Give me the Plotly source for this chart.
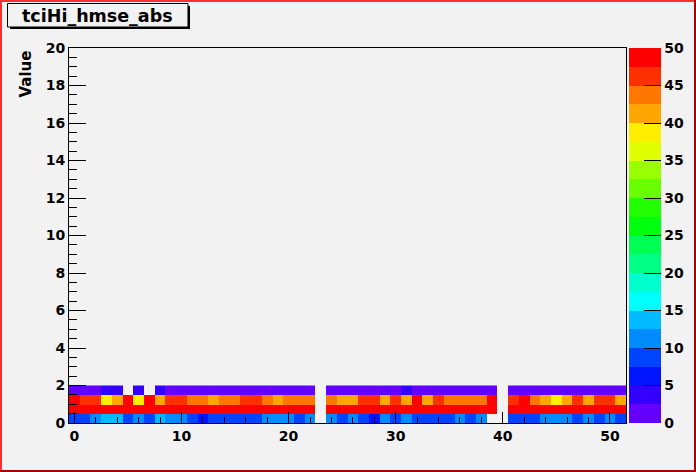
import colorsys
import plotly.graph_objects as go

# ---- data ----
x_bins = list(range(52))
y_bins = [0.25, 0.75, 1.25, 1.75]

row_0_05 = [9, 9, 11, 14, 14, 9, 11, 9, 14, 11, 11, 9, 6, 9, 9, 9, 9, 9, 11, 11,
            11, 9, 11, None, 11, 9, 11, 9, 6, 11, 9, 11, 9, 9, 9, 9, 11, 9, 11, None,
            None, 9, 9, 9, 11, 11, 11, 9, 11, 9, 11, 9]
row_05_1 = [49] * 23 + [None] + [49] * 16 + [None] + [49] * 11
row_1_15 = [49, 46, 46, 39, 41, 49, 39, 49, 41, 46, 46, 44, 44, 41, 44, 44, 46, 46, 44, 41,
            44, 44, 44, None, 44, 41, 41, 46, 46, 41, 46, 41, 49, 41, 46, 44, 44, 44, 44, 49,
            None, 46, 49, 44, 41, 39, 41, 46, 41, 46, 46, 41]
row_15_2 = [1.5, 1.5, 1.5, 3.5, 3.5, None, 3.5, None, 3.5, 1.5, 1.5, 1.5, 1.5, 1.5, 1.5, 1.5, 1.5, 1.5, 1.5, 1.5,
            1.5, 1.5, 1.5, None, 1.5, 1.5, 1.5, 1.5, 1.5, 1.5, 1.5, 3.5, 1.5, 1.5, 1.5, 1.5, 1.5, 1.5, 1.5, 1.5,
            None, 1.5, 1.5, 1.5, 1.5, 1.5, 1.5, 1.5, 1.5, 1.5, 1.5, 1.5]

z_min, z_max, n_levels = 0, 50, 20
cbar_ticks = [0, 5, 10, 15, 20, 25, 30, 35, 40, 45, 50]
x_ticks = [0, 10, 20, 30, 40, 50]
y_ticks = [0, 2, 4, 6, 8, 10, 12, 14, 16, 18, 20]
title_text = "tciHi_hmse_abs"
y_title = "Value"

# ---- ROOT-like "pretty" palette with 20 contour levels ----
def pal(i):
    hue = 280 - (i + 1) * (280 / 50)
    r, g, b = colorsys.hls_to_rgb(hue / 360.0, 0.5, 1.0)
    return f"rgb({int(r*255+0.5)},{int(g*255+0.5)},{int(b*255+0.5)})"

scale = []
for j in range(n_levels):
    c = pal(int((j + 0.99) * 50 / n_levels))
    scale.append([j / n_levels, c])
    scale.append([(j + 1) / n_levels, c])

W, H = 696, 472
L, R, T, B = 69, 70, 48, 49
PW, PH = W - L - R, H - T - B

def px(x):
    return (x - L) / PW

def py(y):
    return (H - B - y) / PH

font = dict(family="DejaVu Sans", size=14, color="black", weight="bold")

fig = go.Figure()
fig.add_trace(go.Heatmap(
    x=x_bins, y=y_bins,
    z=[row_0_05, row_05_1, row_1_15, row_15_2],
    zmin=z_min, zmax=z_max, colorscale=scale,
    hoverongaps=False,
    colorbar=dict(
        x=px(629), xanchor="left", xpad=0, ypad=0,
        y=0.5, yanchor="middle", len=1, lenmode="fraction",
        thickness=32, thicknessmode="pixels",
        outlinewidth=0,
        tickmode="array", tickvals=cbar_ticks,
        ticks="inside", ticklen=17, tickcolor="black", tickwidth=1,
        tickfont=font,
    ),
))

fig.update_xaxes(
    range=[-0.5, 51.5], tickmode="array", tickvals=x_ticks,
    ticks="inside", ticklen=11, tickcolor="black",
    minor=dict(dtick=2, tick0=0, ticks="inside", ticklen=6, tickcolor="black"),
    showgrid=False, zeroline=False, automargin=False,
    showline=True, linecolor="black", linewidth=1, mirror=True,
    tickfont=font,
)
fig.update_yaxes(
    range=[0, 20], tickmode="array", tickvals=y_ticks,
    ticks="inside", ticklen=17, tickcolor="black",
    minor=dict(dtick=0.5, tick0=0, ticks="inside", ticklen=8, tickcolor="black"),
    showgrid=False, zeroline=False, automargin=False,
    showline=True, linecolor="black", linewidth=1, mirror=True,
    tickfont=font,
)

shapes = [
    # title box shadow + box
    dict(type="rect", xref="paper", yref="paper", x0=px(10), x1=px(190), y0=py(29), y1=py(6),
         fillcolor="black", line=dict(width=0), layer="above"),
    dict(type="rect", xref="paper", yref="paper", x0=px(7.5), x1=px(188), y0=py(27), y1=py(3.5),
         fillcolor="#f2f2f2", line=dict(color="black", width=1), layer="above"),
    # canvas border
    dict(type="line", xref="paper", yref="paper", x0=px(1), x1=px(1), y0=py(0), y1=py(H),
         line=dict(color="#ff3030", width=2)),
    dict(type="line", xref="paper", yref="paper", x0=px(0), x1=px(W), y0=py(1), y1=py(1),
         line=dict(color="#ff3030", width=2)),
    dict(type="line", xref="paper", yref="paper", x0=px(W - 1), x1=px(W - 1), y0=py(0), y1=py(H),
         line=dict(color="#a80000", width=2)),
    dict(type="line", xref="paper", yref="paper", x0=px(0), x1=px(W), y0=py(H - 1), y1=py(H - 1),
         line=dict(color="#a80000", width=2)),
]

annotations = [
    dict(text=title_text, xref="paper", yref="paper", x=px(97.5), y=py(15.5),
         xanchor="center", yanchor="middle", showarrow=False,
         font=dict(family="DejaVu Sans", size=17.5, color="black", weight="bold")),
    dict(text=y_title, xref="paper", yref="paper", x=px(25), y=py(49),
         xanchor="center", yanchor="top", textangle=-90, showarrow=False,
         font=dict(family="DejaVu Sans", size=15, color="black", weight="bold")),
]

fig.update_layout(
    width=W, height=H, autosize=False,
    margin=dict(l=L, r=R, t=T, b=B, pad=0, autoexpand=False),
    paper_bgcolor="#f2f2f2", plot_bgcolor="#f2f2f2",
    shapes=shapes, annotations=annotations,
    showlegend=False,
)

fig.write_html(
    "out.html",
    config={"displayModeBar": False},
    post_script="document.body.style.margin='0';document.body.style.background='#f2f2f2';",
)
